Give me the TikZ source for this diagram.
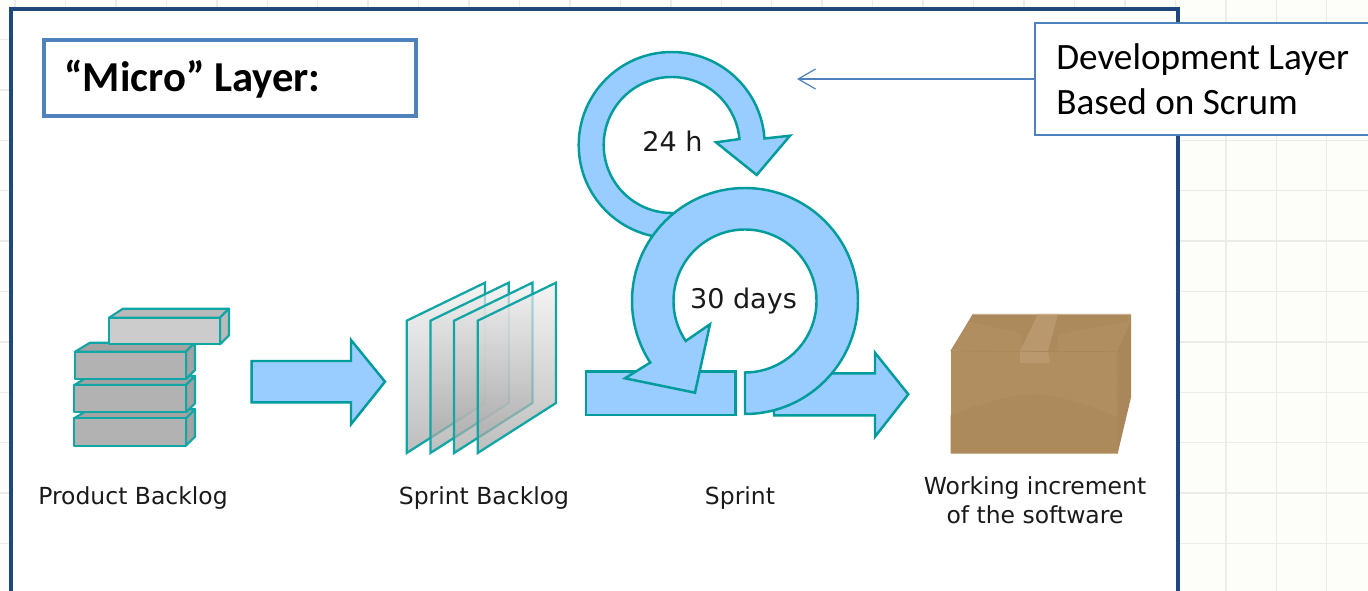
\documentclass[tikz,border=0pt]{standalone}
\usepackage{fontspec}
\setmainfont{Carlito}
\newfontfamily\dejavu{DejaVu Sans}
\usetikzlibrary{arrows.meta,calc}
\definecolor{pagebg}{HTML}{FDFDF9}
\definecolor{gridc}{HTML}{EBEBE7}
\definecolor{framec}{HTML}{1F497D}
\definecolor{accentc}{HTML}{4F81BD}
\definecolor{flowfill}{HTML}{99CCFF}
\definecolor{tealc}{HTML}{009C9C}
\definecolor{blocktealc}{HTML}{12A5A5}
\definecolor{labelc}{HTML}{1A1A1A}
\definecolor{boxfront}{HTML}{B18E60}
\definecolor{boxdark}{HTML}{AD8A5B}
\definecolor{boxside}{HTML}{AA875A}
\definecolor{boxlight}{HTML}{BD9D72}
\tikzset{
  x=0.75pt,y=-0.75pt,
  flow/.style={draw=tealc,fill=flowfill,line width=1.85pt,line join=miter},
  blockline/.style={draw=blocktealc,line width=1.6pt,line join=round},
  sheet/.style={draw=blocktealc,line width=1.7pt,fill opacity=.7,top color=black!6,bottom color=black!36,line join=miter},
  gridline/.style={draw=gridc,line width=1.1pt},
  diagramlabel/.style={font=\dejavu\fontsize{17.6}{21.75}\selectfont,text=labelc,inner sep=0pt,align=center,anchor=base},
  calloutbox/.style={draw=accentc,fill=white,rectangle,inner sep=0pt},
}
\newcommand{\blockat}[8]{% x0 x1 y0 y1 front top side topdx
  \filldraw[blockline,fill=#6] (#1,#3) -- ++(#8,-9) -- (#2+9,#3-9) -- (#2,#3) -- cycle;
  \filldraw[blockline,fill=#7] (#2,#3) -- (#2+9,#3-9) -- (#2+9,#4-9) -- (#2,#4) -- cycle;
  \filldraw[blockline,fill=#5] (#1,#3) rectangle (#2,#4);
}
\newcommand{\sheetat}[1]{%
  \path[sheet] (406.7+#1,320.7) -- (485+#1,282.7) -- (485+#1,403) -- (406.7+#1,453) -- cycle;
}
\begin{document}
\begin{tikzpicture}
\useasboundingbox (0,0) rectangle (1368,591);
\fill[pagebg] (0,0) rectangle (1368,591);
% ruled page
\foreach \k in {0,...,26} \draw[gridline] ({15+50.45*\k},0) -- ({15+50.45*\k},591);
\foreach \k in {0,...,10} \draw[gridline] (0,{39.5+50.4*\k}) -- (1368,{39.5+50.4*\k});
% slide frame
\filldraw[draw=framec,fill=white,line width=2.8pt] (11.3,9.2) rectangle (1177.7,640);

% product backlog
\blockat{74}{186}{418.3}{445.7}{black!30}{black!36}{black!36}{15}
\blockat{74.3}{186}{385}{412.3}{black!30}{black!36}{black!36}{15}
\blockat{75}{186}{351.7}{379}{black!30}{black!36}{black!36}{15}
\blockat{109}{220}{317.7}{344.3}{black!20}{black!27}{black!27}{14}

% arrow: backlog to sprint backlog
\draw[flow] (251.7,361) -- (351,361) -- (351,340) -- (385,381.7) -- (351,424.3) -- (351,402.3) -- (251.7,402.3) -- cycle;

% sprint backlog sheets
\sheetat{0}
\sheetat{23.7}
\sheetat{47.4}
\sheetat{71}

% sprint: bar, exit arrow, daily loop, sprint loop
\draw[flow] (586,371.7) rectangle (735.7,415);
\draw[flow] (774,373.3) -- (875,373.3) -- (875,352.7) -- (908.3,394.3) -- (875,436.7) -- (875,415.3) -- (774,415.3) -- cycle;
\draw[flow] (671.7,145) ++(90:93) arc[start angle=90,end angle=356,radius=93]
  -- (790,135.7) -- (756.7,175) -- (716,142.3)
  -- ($(671.7,145)+(355:68)$) arc[start angle=355,end angle=90,radius=68] -- cycle;
\draw[flow] (745,301) ++(90:71.5) -- ++(0,41.5)
  arc[start angle=90,end angle=-213,radius=113]
  -- (625,378.3) -- (695,392.7) -- (710,324.3)
  -- ($(745,301)+(146:71.5)$) arc[start angle=-214,end angle=90,radius=71.5] -- cycle;

% shipping box
\fill[boxside] (1116.7,351.7) -- (1131,314) -- (1131,397.3) -- (1117.7,453.3) -- cycle;
\fill[boxdark] (950.7,350.7) -- (972.7,314) -- (1131,314) -- (1116.7,351.7) -- cycle;
\fill[boxfront] (950.7,350.7) -- (969,321) .. controls (990,327) and (1015,331) .. (1021,334) -- (1022,351) -- cycle;
\fill[boxfront] (1058,351) -- (1058,336) .. controls (1080,328) and (1110,325) .. (1131,322) -- (1116.7,351.7) -- cycle;
\fill[boxfront] (950.7,350.7) rectangle (1117.7,453.3);
\fill[boxdark] (950.7,415.5) .. controls (985,402) and (1015,394.3) .. (1033,394.3) .. controls (1055,394.3) and (1085,404) .. (1117,416.5) -- (1117.7,453.3) -- (950.7,453.3) -- cycle;
\fill[boxlight,opacity=.75] (1038,314) -- (1058,314) -- (1048,351) -- (1050,363) -- (1020,363) -- (1020,351) -- cycle;
\draw[boxside,line width=.6pt] (950.7,351) -- (1116.7,351.7) -- (1117.7,453.3);
\draw[white!30!boxfront,line width=.6pt] (972.7,314) -- (1131,314);
\draw[white!30!boxfront,line width=.6pt] (950.7,453.6) -- (1117.7,453.6);

% labels
\node[diagramlabel] (product) at (133,504) {Product Backlog};
\node[diagramlabel] (sprintb) at (484,505) {Sprint Backlog};
\node[diagramlabel] (sprint) at (740,505) {Sprint};
\node[diagramlabel] (increment) at (1035,523) {Working increment\\of the software};
\node[diagramlabel,font=\dejavu\fontsize{20.3}{24}\selectfont] (daily) at (672.5,151.5) {24 h};
\node[diagramlabel,font=\dejavu\fontsize{20.3}{24}\selectfont] (month) at (743.5,308.5) {30 days};

% micro layer title
\node[calloutbox,line width=2.5pt,minimum width=279pt,minimum height=57pt] (microbox) at (230,78) {};
\node[anchor=base west,inner sep=0pt,font=\fontsize{32}{36}\selectfont\bfseries] (microtext) at (64,91.5) {“Micro” Layer:};

% development layer callout
\coordinate (devtip) at (797,79);
\node[calloutbox,line width=1.1pt,minimum width=300pt,minimum height=84pt] (devbox) at (1235,79) {};
\draw[accentc,line width=.9pt,-{Straight Barb[length=13pt,width=15pt,line width=.9pt]}] (devbox.west) -- (devtip);
\node[anchor=west,inner sep=0pt,align=left,font=\fontsize{27.9}{33.75}\selectfont] (devtext) at (1056,79) {Development Layer\\Based on Scrum};
\end{tikzpicture}
\end{document}
